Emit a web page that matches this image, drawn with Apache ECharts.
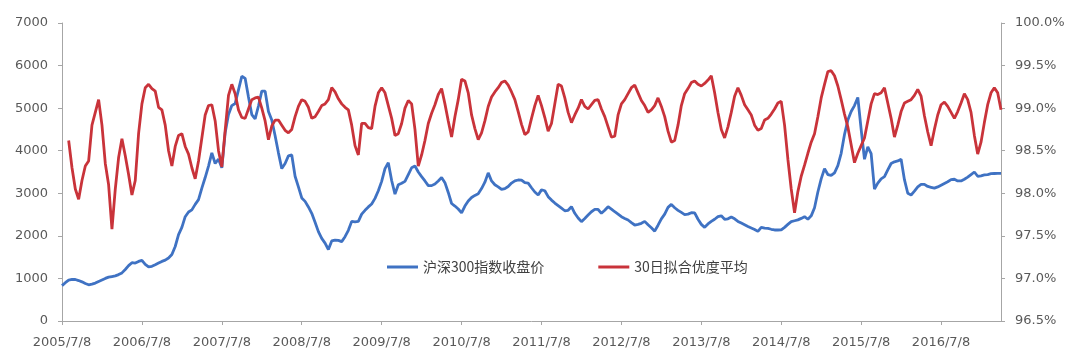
<!DOCTYPE html>
<html>
<head>
<meta charset="utf-8">
<script src="https://cdn.jsdelivr.net/npm/echarts@6/dist/echarts.min.js"></script>
<style>html,body{margin:0;padding:0;background:#fff;}#c{width:1074px;height:360px;}</style>
</head>
<body>
<div id="c"></div>
<script>
// Tick labels on the x axis (one per year)
var tickLabels = ['2005/7/8','2006/7/8','2007/7/8','2008/7/8','2009/7/8','2010/7/8','2011/7/8','2012/7/8','2013/7/8','2014/7/8','2015/7/8','2016/7/8'];
var seriesNames = ['沪深300指数收盘价', '30日拟合优度平均'];

// Half-month observation dates starting 2005/7/8
var categories = (function () {
  var out = [];
  for (var i = 0; i < 283; i++) {
    var y = 2005 + Math.floor(i / 24), h = i % 24;
    var m = 7 + Math.floor(h / 2);
    if (m > 12) { m -= 12; y += 1; }
    out.push(y + '/' + m + '/' + (h % 2 ? 23 : 8));
  }
  return out;
})();

// 沪深300指数收盘价 (left axis)
var hs300 = [
830,900,960,975,975,950,920,880,850,865,890,930,965,1000,1030,1045,1060,1090,1130,1210,
1300,1370,1360,1400,1425,1330,1270,1285,1320,1360,1400,1430,1480,1560,1750,2030,2200,2450,2560,2610,
2740,2850,3120,3370,3640,3950,3700,3800,3600,4420,4850,5060,5110,5430,5750,5700,5260,4850,4750,5050,
5400,5400,4920,4720,4350,3950,3580,3700,3880,3900,3400,3150,2890,2810,2680,2530,2320,2100,1940,1830,
1680,1880,1900,1895,1865,1980,2130,2340,2330,2340,2510,2600,2680,2750,2880,3060,3280,3580,3720,3300,
2980,3200,3235,3280,3440,3600,3640,3500,3390,3290,3180,3180,3220,3290,3370,3250,3020,2760,2700,2630,
2540,2700,2820,2900,2950,2990,3110,3260,3480,3290,3200,3150,3090,3110,3160,3240,3290,3312,3310,3250,
3240,3130,3030,2960,3080,3060,2920,2840,2770,2710,2650,2590,2600,2685,2530,2420,2333,2410,2490,2567,
2620,2620,2530,2600,2685,2630,2567,2510,2450,2410,2372,2310,2255,2270,2295,2340,2260,2190,2110,2250,
2400,2510,2670,2740,2660,2600,2550,2500,2510,2545,2540,2390,2270,2200,2280,2340,2390,2450,2470,2390,
2400,2445,2400,2340,2300,2260,2220,2185,2150,2105,2200,2180,2175,2155,2138,2138,2140,2200,2270,2335,
2355,2375,2410,2450,2390,2470,2660,3030,3340,3580,3440,3420,3480,3650,3940,4380,4720,4920,5060,5250,
4500,3800,4090,3930,3100,3240,3340,3390,3550,3700,3740,3760,3800,3320,3000,2960,3050,3150,3210,3210,
3160,3140,3120,3150,3190,3230,3270,3320,3330,3290,3290,3330,3380,3440,3500,3400,3410,3430,3440,3460,
3465,3470,3470
];

// 30日拟合优度平均, in percent (right axis)
var fitAvg = [
null,null,98.62,98.30,98.05,97.93,98.15,98.32,98.38,98.80,98.95,99.10,98.80,98.35,98.10,97.58,98.05,98.42,98.64,98.44,
98.22,97.98,98.15,98.70,99.05,99.24,99.28,99.23,99.20,99.01,98.98,98.80,98.50,98.32,98.55,98.68,98.70,98.55,98.46,98.30,
98.17,98.38,98.65,98.92,99.03,99.04,98.85,98.50,98.31,98.74,99.15,99.28,99.17,98.98,98.89,98.88,98.99,99.10,99.12,99.13,
99.00,98.85,98.63,98.79,98.86,98.86,98.80,98.74,98.71,98.75,98.90,99.02,99.10,99.08,99.01,98.88,98.90,98.96,99.03,99.05,
99.10,99.24,99.19,99.11,99.05,99.01,98.98,98.80,98.56,98.45,98.82,98.82,98.77,98.76,99.02,99.18,99.24,99.18,99.03,98.88,
98.68,98.70,98.82,99.00,99.09,99.05,98.75,98.32,98.45,98.62,98.82,98.94,99.04,99.16,99.23,99.05,98.85,98.66,98.90,99.10,
99.34,99.32,99.18,98.92,98.76,98.63,98.71,98.85,99.02,99.13,99.19,99.24,99.30,99.32,99.27,99.19,99.10,98.96,98.81,98.69,
98.72,98.88,99.03,99.15,99.03,98.89,98.73,98.82,99.05,99.28,99.26,99.12,98.95,98.83,98.92,99.00,99.10,99.02,98.99,99.04,
99.09,99.10,98.99,98.90,98.78,98.66,98.67,98.92,99.05,99.10,99.17,99.24,99.27,99.18,99.09,99.03,98.95,98.98,99.03,99.12,
99.02,98.90,98.73,98.60,98.62,98.80,99.03,99.17,99.23,99.30,99.32,99.28,99.26,99.29,99.33,99.38,99.18,98.95,98.75,98.65,
98.78,98.95,99.14,99.24,99.15,99.04,98.98,98.92,98.80,98.74,98.76,98.86,98.88,98.93,98.99,99.06,99.08,98.80,98.40,98.05,
97.77,98.02,98.20,98.33,98.47,98.60,98.70,98.90,99.12,99.28,99.43,99.44,99.38,99.26,99.10,98.93,98.78,98.57,98.36,98.47,
98.56,98.65,98.85,99.05,99.17,99.16,99.18,99.24,99.06,98.88,98.66,98.80,98.96,99.06,99.08,99.10,99.15,99.22,99.14,98.91,
98.72,98.56,98.75,98.92,99.04,99.07,99.02,98.95,98.88,98.96,99.06,99.17,99.10,98.95,98.68,98.46,98.60,98.83,99.04,99.18,
99.24,99.18,98.98
];

var labelStyle = { color: '#595959', fontSize: 13, fontFamily: 'DejaVu Sans' };
var axisLineStyle = { lineStyle: { color: '#a6a6a6', width: 1 } };
var showYear = function (idx, val) { return tickLabels.indexOf(val) >= 0; };

var chart = echarts.init(document.getElementById('c'), null, { renderer: 'canvas' });
chart.setOption({
  animation: false,
  backgroundColor: '#ffffff',
  grid: { left: 62, right: 73, top: 23, bottom: 39 },
  legend: {
    left: 382, top: 255,
    itemWidth: 31, itemHeight: 3, itemGap: 54,
    icon: 'rect',
    textStyle: { color: '#404040', fontSize: 14, fontFamily: 'Noto Sans CJK SC' },
    data: seriesNames
  },
  xAxis: {
    type: 'category',
    data: categories,
    boundaryGap: false,
    axisLine: axisLineStyle,
    axisTick: { show: true, interval: showYear, length: 4, lineStyle: { color: '#a6a6a6' } },
    axisLabel: Object.assign({ interval: showYear, margin: 15 }, labelStyle),
    splitLine: { show: false }
  },
  yAxis: [
    {
      type: 'value', min: 0, max: 7000, interval: 1000,
      axisLine: Object.assign({ show: true }, axisLineStyle),
      axisTick: { show: true, length: 4, lineStyle: { color: '#a6a6a6' } },
      axisLabel: Object.assign({ margin: 14, formatter: function (v) { return String(v); } }, labelStyle),
      splitLine: { show: false }
    },
    {
      type: 'value', min: 96.5, max: 100, interval: 0.5,
      axisLine: Object.assign({ show: true }, axisLineStyle),
      axisTick: { show: true, length: 4, lineStyle: { color: '#a6a6a6' } },
      axisLabel: Object.assign({ margin: 14, formatter: function (v) { return v.toFixed(1) + '%'; } }, labelStyle),
      splitLine: { show: false }
    }
  ],
  series: [
    {
      name: seriesNames[0], type: 'line', data: hs300, yAxisIndex: 0,
      showSymbol: false, symbol: 'none',
      lineStyle: { color: '#3f72c3', width: 2.8 }, itemStyle: { color: '#3f72c3' }
    },
    {
      name: seriesNames[1], type: 'line', data: fitAvg, yAxisIndex: 1,
      showSymbol: false, symbol: 'none',
      lineStyle: { color: '#c9333a', width: 2.8 }, itemStyle: { color: '#c9333a' }
    }
  ]
});
</script>
</body>
</html>
